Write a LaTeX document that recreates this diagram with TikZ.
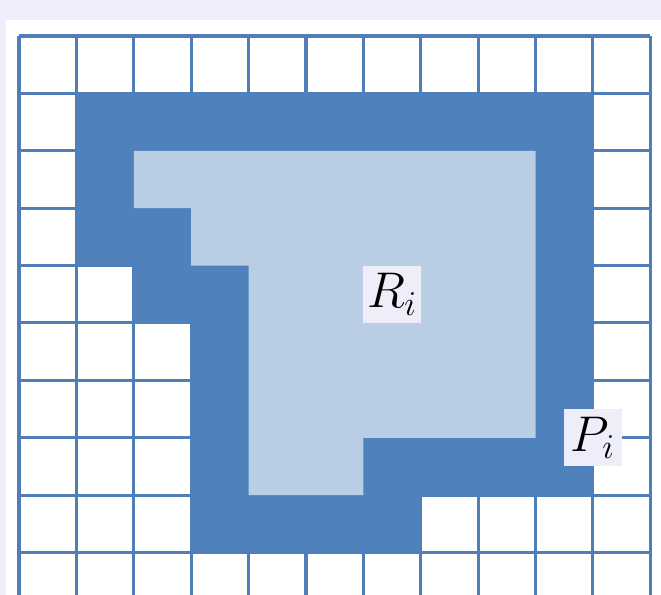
\documentclass[tikz,border=0pt]{standalone}
\usepackage{tikz}
\usetikzlibrary{positioning}
\definecolor{pageblue}{HTML}{EEEEFB}
\definecolor{griddark}{HTML}{4F7EB8}
\definecolor{regiondark}{HTML}{4F81BD}
\definecolor{regionlight}{HTML}{B9CDE5}
\tikzset{
  cellgrid/.style={
    draw=griddark,
    line width=1.5pt
  },
  outerregion/.style={
    fill=regiondark
  },
  innerregion/.style={
    fill=regionlight
  },
  labelbox/.style={
    fill=pageblue,
    minimum size=1cm,
    inner sep=0pt,
    font=\fontsize{24}{28}\selectfont
  }
}

\begin{document}
\begin{tikzpicture}
\useasboundingbox (-0.331,0.627) rectangle (11.185,-9.739);
\clip (-0.331,0.627) rectangle (11.185,-9.739);
\fill[pageblue] (-0.331,0.627) rectangle (11.185,-9.739);
\fill[white] (-0.226,0.279) rectangle (11.185,-9.739);
% grid of cells
\draw[cellgrid] (0,-10) grid (11,0);
% boundary region P_i, then region R_i on top
\fill[outerregion] (1,-1) -- (10,-1) -- (10,-8) -- (7,-8) -- (7,-9) -- (3,-9)
  -- (3,-5) -- (2,-5) -- (2,-4) -- (1,-4) -- cycle;
\fill[innerregion] (2,-2) -- (9,-2) -- (9,-7) -- (6,-7) -- (6,-8) -- (4,-8)
  -- (4,-4) -- (3,-4) -- (3,-3) -- (2,-3) -- cycle;
\node[labelbox] (rlabel) at (6.5,-4.5) {$R_i$};
\node[labelbox] (plabel) at (10,-7) {$P_i$};
\end{tikzpicture}
\end{document}
